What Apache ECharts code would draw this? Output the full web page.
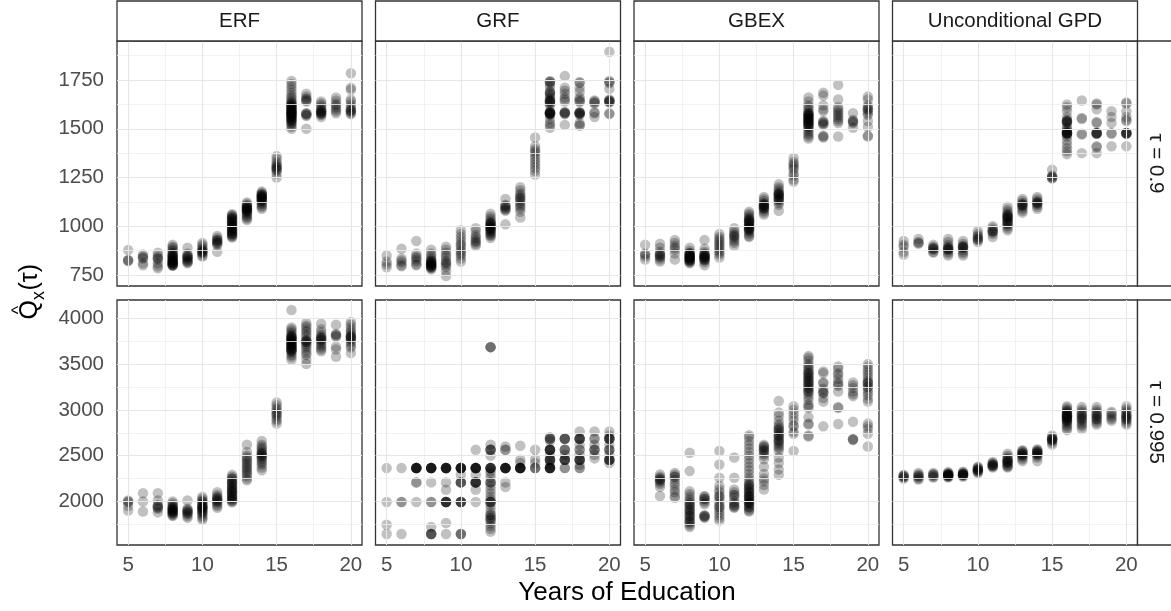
<!DOCTYPE html>
<html><head><meta charset="utf-8">
<script src="https://cdn.jsdelivr.net/npm/echarts@6/dist/echarts.min.js"></script>
<style>html,body{margin:0;padding:0;background:#fff}#c{width:1171px;height:611px}</style>
</head><body><div id="c"></div><script>
// ---------------- data ----------------
const years = [5,6,7,8,9,10,11,12,13,14,15,16,17,18,19,20];
const methods = ['ERF', 'GRF', 'GBEX', 'Unconditional GPD'];
const taus = ['τ = 0.9', 'τ = 0.995'];
const xTicks = [5, 10, 15, 20];
const xMinor = [7.5, 12.5, 17.5];
const yTicks090 = [750, 1000, 1250, 1500, 1750];
const yMinor090 = [875, 1125, 1375, 1625, 1875];
const yTicks0995 = [2000, 2500, 3000, 3500, 4000];
const yMinor0995 = [1750, 2250, 2750, 3250, 3750];
const yRange090 = [694, 1950];
const yRange0995 = [1524, 4200];
const xRange = [4.25, 20.75];

// each array: one list of estimated quantiles per year of education (5..20)
const erf_090 = [
 [878, 828, 825, 822],
 [855, 845, 835, 810, 800, 840],
 [865, 850, 840, 830, 810, 795, 785, 835],
 [905, 895, 890, 880, 875, 865, 860, 855, 850, 848, 845, 842, 840, 835, 830, 828, 825, 822, 820, 818, 815, 812, 810, 808, 805, 802, 800, 800, 798],
 [890, 860, 850, 845, 840, 830, 825, 820, 815, 810, 835, 845],
 [915, 905, 895, 885, 875, 870, 865, 860, 850, 845, 880, 870],
 [950, 940, 930, 925, 920, 915, 910, 905, 870, 930],
 [1062, 1058, 1052, 1048, 1042, 1038, 1032, 1028, 1022, 1018, 1012, 1008, 1002, 998, 992, 988, 982, 978, 972, 968, 962, 958, 952, 948, 942, 1040, 1020, 1000, 980, 960],
 [1122, 1115, 1108, 1102, 1098, 1094, 1090, 1086, 1082, 1078, 1074, 1068, 1062, 1055, 1048, 1040, 1032, 1100, 1090, 1080],
 [1178, 1172, 1166, 1162, 1158, 1154, 1150, 1146, 1142, 1138, 1134, 1130, 1126, 1120, 1114, 1106, 1098, 1090, 1160, 1150, 1140],
 [1360, 1345, 1330, 1320, 1310, 1305, 1300, 1295, 1290, 1285, 1270, 1250],
 [1745, 1730, 1715, 1700, 1685, 1670, 1660, 1650, 1640, 1635, 1630, 1625, 1620, 1615, 1610, 1605, 1600, 1595, 1590, 1585, 1580, 1575, 1570, 1565, 1560, 1555, 1550, 1545, 1540, 1530, 1520, 1510, 1500, 1590, 1580, 1570, 1600, 1590, 1580, 1570, 1560, 1550, 1620, 1610, 1540, 1530],
 [1680, 1665, 1655, 1645, 1640, 1580, 1575, 1570, 1565, 1500, 1650, 1578],
 [1640, 1630, 1620, 1610, 1600, 1595, 1590, 1585, 1580, 1575, 1570, 1560, 1590, 1580],
 [1660, 1645, 1630, 1620, 1610, 1600, 1590, 1580],
 [1785, 1710, 1700, 1650, 1640, 1625, 1610, 1600, 1595, 1590, 1580, 1575, 1590]
];
const grf_090 = [
 [850, 820, 805, 790],
 [885, 835, 825, 815, 800, 795],
 [925, 860, 845, 840, 830, 820, 805, 800],
 [880, 860, 850, 840, 830, 825, 820, 815, 810, 805, 800, 795, 790, 785, 780, 820, 810, 800, 790, 805, 795],
 [895, 880, 865, 850, 840, 825, 815, 810, 800, 790, 770, 745],
 [980, 960, 945, 930, 915, 905, 895, 880, 870, 860, 850, 835, 820],
 [990, 975, 955, 945, 935, 925, 920, 910, 900],
 [1065, 1050, 1040, 1030, 1020, 1015, 1010, 1000, 995, 990, 985, 980, 970, 960, 955, 950, 940, 1000, 990, 980, 1010, 1020, 970],
 [1140, 1110, 1105, 1100, 1095, 1090, 1085, 1080, 1010],
 [1200, 1185, 1170, 1160, 1150, 1145, 1140, 1130, 1120, 1110, 1100, 1090, 1075, 1045],
 [1455, 1410, 1395, 1385, 1375, 1360, 1345, 1330, 1315, 1300, 1285, 1265],
 [1745, 1740, 1730, 1715, 1690, 1680, 1665, 1655, 1645, 1640, 1635, 1630, 1620, 1590, 1585, 1580, 1580, 1575, 1570, 1550, 1530, 1520, 1505, 1640, 1645, 1580, 1580, 1585, 1575, 1680, 1690, 1740],
 [1770, 1710, 1695, 1680, 1660, 1650, 1640, 1585, 1580, 1575, 1520, 1580, 1585],
 [1740, 1735, 1710, 1690, 1660, 1650, 1640, 1585, 1580, 1575, 1570, 1530, 1520, 1515, 1580, 1580, 1585, 1640],
 [1645, 1640, 1635, 1630, 1585, 1580, 1560],
 [1895, 1745, 1740, 1735, 1705, 1650, 1645, 1640, 1635, 1580, 1575, 1640, 1645]
];
const gbex_090 = [
 [905, 860, 855, 845, 830],
 [910, 890, 870, 860, 855, 850, 845, 840, 830, 820],
 [930, 915, 900, 890, 880, 860, 830],
 [890, 875, 865, 860, 855, 850, 845, 840, 835, 830, 825, 820, 815, 810, 850, 845, 840, 835, 830, 825, 860, 855],
 [930, 885, 870, 860, 855, 850, 845, 840, 830, 825, 815, 800, 850, 845, 840, 835, 830],
 [960, 945, 935, 925, 915, 905, 895, 885, 875, 865, 855, 840],
 [990, 975, 965, 955, 950, 945, 935, 925, 915, 900],
 [1075, 1065, 1055, 1045, 1035, 1030, 1025, 1020, 1010, 1000, 995, 990, 985, 980, 970, 960, 950, 945, 1040, 1030, 1020, 1010, 1000, 990, 980],
 [1150, 1140, 1130, 1120, 1115, 1110, 1105, 1100, 1095, 1090, 1080, 1070, 1060, 1110, 1100, 1090],
 [1215, 1200, 1190, 1180, 1170, 1165, 1160, 1150, 1140, 1135, 1130, 1120, 1110, 1080, 1170, 1160, 1150, 1140],
 [1350, 1330, 1320, 1310, 1300, 1290, 1270, 1260, 1240, 1230],
 [1660, 1640, 1620, 1610, 1600, 1590, 1580, 1575, 1570, 1565, 1560, 1555, 1550, 1545, 1540, 1535, 1530, 1525, 1520, 1510, 1500, 1490, 1480, 1470, 1460, 1450, 1580, 1570, 1560, 1550, 1540, 1530, 1520, 1510],
 [1685, 1670, 1620, 1600, 1590, 1540, 1535, 1530, 1525, 1520, 1465, 1460, 1455],
 [1725, 1650, 1610, 1600, 1590, 1580, 1570, 1560, 1550, 1540, 1530, 1460],
 [1580, 1545, 1540, 1535, 1530, 1505],
 [1665, 1650, 1620, 1610, 1600, 1590, 1580, 1570, 1540, 1510, 1465, 1460, 1600]
];
const gpd_090 = [
 [925, 905, 895, 870, 855],
 [935, 920, 915, 910],
 [905, 895, 890, 885, 880, 870, 865, 885],
 [935, 920, 905, 895, 890, 885, 880, 870, 860, 850, 880, 885],
 [925, 910, 900, 895, 890, 880, 870, 860, 850, 890, 895],
 [975, 960, 950, 945, 935, 930, 920, 935],
 [1000, 990, 980, 975, 970, 960, 945, 975],
 [1100, 1085, 1075, 1065, 1055, 1050, 1045, 1040, 1030, 1020, 1010, 1000, 990, 980, 1060, 1050, 1040, 1030, 1020, 1010],
 [1140, 1130, 1120, 1115, 1110, 1105, 1100, 1090, 1080, 1070, 1110],
 [1150, 1140, 1130, 1125, 1120, 1115, 1110, 1100, 1090, 1120],
 [1290, 1260, 1255, 1250, 1250, 1245],
 [1625, 1610, 1590, 1560, 1545, 1540, 1535, 1530, 1510, 1490, 1485, 1480, 1478, 1475, 1470, 1460, 1440, 1420, 1400, 1385, 1370, 1480, 1478, 1476, 1540, 1535, 1500],
 [1645, 1555, 1550, 1475, 1470, 1375],
 [1630, 1625, 1600, 1535, 1530, 1480, 1478, 1476, 1474, 1410, 1405, 1375, 1478, 1476],
 [1590, 1560, 1530, 1478, 1474, 1410],
 [1635, 1630, 1590, 1560, 1545, 1540, 1480, 1478, 1476, 1474, 1410, 1478, 1476]
];
const erf_0995 = [
 [2010, 2000, 1990, 1950, 1900],
 [2090, 2000, 1890],
 [2090, 2010, 1960, 1950, 1940, 1930, 1920, 1880],
 [2000, 1980, 1960, 1950, 1940, 1930, 1920, 1910, 1900, 1890, 1880, 1860, 1850, 1840, 1920, 1900, 1880, 1870],
 [2010, 1920, 1910, 1900, 1890, 1880, 1870, 1860, 1840, 1820],
 [2050, 2030, 2010, 2000, 1990, 1970, 1950, 1940, 1930, 1920, 1900, 1880, 1860, 1840, 1820, 1800, 1960, 1940, 1920, 1900, 1880],
 [2100, 2070, 2050, 2040, 2030, 2020, 2010, 2000, 1990, 1970, 1950, 1930],
 [2290, 2270, 2250, 2230, 2210, 2200, 2180, 2170, 2150, 2140, 2120, 2110, 2100, 2080, 2070, 2050, 2040, 2020, 2010, 2000, 1990, 2250, 2200, 2150, 2100, 2060, 2030],
 [2620, 2540, 2500, 2480, 2460, 2440, 2420, 2400, 2380, 2360, 2340, 2320, 2300, 2280, 2250, 2230],
 [2660, 2620, 2600, 2580, 2560, 2540, 2530, 2520, 2510, 2500, 2490, 2480, 2460, 2440, 2420, 2400, 2370, 2340],
 [3080, 3050, 3020, 3000, 2980, 2960, 2950, 2930, 2900, 2880, 2850],
 [4090, 3900, 3880, 3860, 3840, 3820, 3810, 3800, 3790, 3780, 3770, 3760, 3750, 3740, 3730, 3720, 3710, 3700, 3690, 3680, 3670, 3660, 3650, 3640, 3620, 3600, 3580, 3550, 3800, 3780, 3760, 3740, 3720, 3700, 3680, 3660, 3640],
 [3950, 3920, 3900, 3870, 3850, 3820, 3800, 3760, 3750, 3740, 3720, 3700, 3680, 3650, 3620, 3600, 3550, 3500, 3760, 3740],
 [3940, 3880, 3850, 3820, 3800, 3790, 3780, 3760, 3740, 3720, 3700, 3680, 3660, 3640, 3780, 3760],
 [3930, 3830, 3820, 3810, 3800, 3690, 3660, 3580],
 [3960, 3930, 3900, 3870, 3850, 3830, 3810, 3800, 3790, 3770, 3750, 3730, 3700, 3680, 3620, 3800, 3780]
];
const grf_0995 = [
 [2364, 1993, 1746, 1644],
 [2364, 1993, 1993, 1644],
 [2364, 2364, 2364, 2364, 2364, 2364, 2364, 2364, 2208, 2208, 1993],
 [2364, 2364, 2364, 2364, 2364, 2364, 2364, 2364, 2208, 1993, 1993, 1720, 1644, 1644, 1644, 1644],
 [2364, 2364, 2364, 2364, 2364, 2364, 2364, 2364, 2208, 2128, 1993, 1993, 1993, 1993, 1993, 1993, 1764, 1644],
 [2364, 2364, 2364, 2364, 2364, 2364, 2364, 2364, 2291, 2208, 2208, 2208, 2208, 1993, 1993, 1993, 1993, 1993, 1644, 1644, 1644],
 [2564, 2364, 2364, 2364, 2364, 2364, 2364, 2364, 2364, 2291, 2208, 2208, 2208, 2208, 2208, 2208, 2128, 1993],
 [3685, 3685, 3685, 2620, 2564, 2564, 2564, 2564, 2500, 2364, 2364, 2364, 2364, 2364, 2364, 2330, 2300, 2260, 2208, 2208, 2208, 2170, 2130, 2090, 2050, 2020, 1993, 1993, 1993, 1993, 1960, 1920, 1880, 1850, 1850, 1820, 1820, 1800, 1790, 1760, 1730, 1700, 1670],
 [2600, 2564, 2564, 2364, 2364, 2364, 2364, 2364, 2364, 2364, 2364, 2208, 2157],
 [2608, 2455, 2420, 2364, 2364, 2364, 2364, 2364, 2364, 2364, 2364],
 [2564, 2460, 2420, 2364, 2364, 2364],
 [2700, 2684, 2684, 2684, 2660, 2564, 2564, 2564, 2564, 2564, 2564, 2500, 2455, 2455, 2455, 2455, 2455, 2400, 2364, 2364, 2364, 2364, 2364, 2364, 2364],
 [2684, 2684, 2684, 2684, 2564, 2564, 2564, 2510, 2455, 2455, 2455, 2455, 2455, 2364, 2364],
 [2764, 2684, 2684, 2684, 2684, 2684, 2620, 2564, 2564, 2510, 2455, 2455, 2455, 2455, 2455, 2400, 2364, 2364],
 [2764, 2684, 2684, 2620, 2564, 2564, 2564, 2510, 2470],
 [2764, 2720, 2684, 2684, 2684, 2684, 2684, 2620, 2564, 2564, 2564, 2510, 2455, 2455, 2455, 2455, 2455, 2420]
];
const gbex_0995 = [
 [],
 [2295, 2270, 2250, 2230, 2210, 2190, 2160, 2060, 2250, 2230],
 [2310, 2290, 2270, 2240, 2200, 2170, 2130, 2100, 2060, 2040, 2270],
 [2531, 2331, 2110, 2080, 2050, 2020, 2000, 1980, 1960, 1940, 1920, 1900, 1880, 1860, 1840, 1820, 1800, 1780, 1760, 1740, 1720, 1960, 1900, 1840, 1780],
 [2060, 2050, 2030, 2010, 1990, 1970, 1850, 1840, 1830, 1820, 2030, 1840],
 [2550, 2404, 2258, 2170, 2130, 2100, 2060, 2030, 2000, 1970, 1940, 1910, 1880, 1850, 1820, 1790, 2060, 1940],
 [2480, 2258, 2130, 2100, 2070, 2040, 2000, 1980, 1950, 1940, 1930, 2070, 1960],
 [2724, 2700, 2660, 2620, 2580, 2540, 2500, 2460, 2420, 2380, 2340, 2300, 2260, 2230, 2200, 2180, 2160, 2140, 2120, 2100, 2080, 2060, 2050, 2040, 2020, 2000, 1990, 1980, 1960, 1940, 1920, 1900, 1890, 2100, 2060, 2020, 1980, 1940, 2140, 2180],
 [2620, 2600, 2580, 2560, 2540, 2520, 2500, 2460, 2380, 2300, 2250, 2220, 2180, 2130, 2600, 2560],
 [3096, 2970, 2930, 2880, 2840, 2820, 2800, 2780, 2760, 2740, 2720, 2700, 2680, 2660, 2640, 2620, 2600, 2580, 2550, 2480, 2420, 2350, 2290, 2780, 2720, 2660],
 [3040, 3000, 2960, 2920, 2880, 2830, 2820, 2760, 2740, 2550],
 [3587, 3570, 3540, 3500, 3480, 3460, 3440, 3420, 3400, 3380, 3360, 3340, 3320, 3300, 3280, 3260, 3240, 3220, 3200, 3170, 3140, 3110, 3060, 3040, 3020, 2920, 2850, 2840, 2720, 2710, 3320, 3280, 3240, 3200, 3360, 3400],
 [3420, 3400, 3300, 3290, 3230, 3200, 3190, 3180, 3130, 3090, 2820],
 [3475, 3450, 3400, 3380, 3340, 3300, 3280, 3260, 3200, 3030, 3020, 2845],
 [3300, 3270, 3240, 3200, 3170, 3150, 2870, 2680, 2680, 2670],
 [3500, 3470, 3440, 3410, 3380, 3350, 3320, 3300, 3280, 3250, 3220, 3190, 3160, 3120, 3090, 2850, 2820, 2790, 2740, 2600, 3300, 3250]
];
const gpd_0995 = [
 [2290, 2280, 2270, 2260, 2250, 2275],
 [2310, 2295, 2280, 2265, 2250, 2240, 2275],
 [2310, 2300, 2285, 2270, 2260, 2285],
 [2320, 2310, 2300, 2295, 2290, 2285, 2280, 2275, 2270, 2260, 2300, 2290, 2280],
 [2325, 2315, 2305, 2300, 2295, 2290, 2285, 2280, 2270, 2300, 2290],
 [2380, 2370, 2360, 2350, 2340, 2330, 2320, 2310, 2350, 2340],
 [2430, 2420, 2410, 2400, 2390, 2380, 2370, 2400, 2390],
 [2520, 2500, 2480, 2460, 2440, 2430, 2420, 2400, 2390, 2380, 2370, 2460, 2440, 2420],
 [2560, 2550, 2540, 2530, 2520, 2510, 2500, 2480, 2460, 2440, 2520, 2500],
 [2570, 2560, 2550, 2540, 2530, 2520, 2510, 2500, 2480, 2440, 2540, 2520],
 [2720, 2700, 2690, 2680, 2670, 2660, 2640, 2620, 2680, 2670],
 [3040, 3020, 3000, 2990, 2980, 2970, 2960, 2950, 2940, 2930, 2920, 2910, 2900, 2890, 2880, 2870, 2860, 2840, 2820, 2800, 2780, 2950, 2930, 2910, 2890],
 [3030, 3000, 2980, 2960, 2940, 2920, 2900, 2880, 2860, 2840, 2820, 2790, 2940, 2900],
 [3030, 3000, 2980, 2960, 2940, 2920, 2900, 2880, 2860, 2840, 2940, 2900],
 [2980, 2960, 2940, 2920, 2900, 2880],
 [3040, 3010, 2990, 2970, 2950, 2930, 2920, 2900, 2880, 2860, 2840, 2940, 2900]
];

const panelData = [
  [erf_090, grf_090, gbex_090, gpd_090],
  [erf_0995, grf_0995, gbex_0995, gpd_0995]
];
const rowTicks = [yTicks090, yTicks0995];
const rowMinor = [yMinor090, yMinor0995];
const rowRange = [yRange090, yRange0995];

// ---------------- layout ----------------
const FONT = 'Liberation Sans, Arial, Helvetica, sans-serif';
const colLeft = [117, 375.5, 634, 892.5];
const rowTop = [41, 300];
const PW = 245, PH = 245;
const TICK_FS = 20.5, STRIP_FS = 20.5, TITLE_FS = 26;

const grid = [], xAxis = [], yAxis = [], series = [];
let gi = 0;
for (let r = 0; r < 2; r++) {
  for (let c = 0; c < 4; c++) {
    grid.push({left: colLeft[c], top: rowTop[r], width: PW, height: PH, show: true,
      borderColor: '#333333', borderWidth: 1.3, backgroundColor: '#fff', containLabel: false, outerBoundsMode: 'none'});
    xAxis.push({type: 'value', gridIndex: gi, min: xRange[0], max: xRange[1],
      axisLine: {show: false}, axisTick: {show: false}, splitLine: {show: false},
      axisLabel: {show: r === 1, customValues: xTicks, color: '#4d4d4d', fontSize: TICK_FS, fontFamily: FONT, margin: 10,
        formatter: v => String(v)}});
    yAxis.push({type: 'value', gridIndex: gi, min: rowRange[r][0], max: rowRange[r][1],
      axisLine: {show: false}, axisTick: {show: false}, splitLine: {show: false},
      axisLabel: {show: c === 0, customValues: rowTicks[r], color: '#4d4d4d', fontSize: TICK_FS, fontFamily: FONT, margin: 13,
        formatter: v => String(v)}});
    const lines = [];
    xMinor.forEach(v => lines.push({xAxis: v, lineStyle: {color: '#efefef', width: 0.8, type: 'solid'}}));
    rowMinor[r].forEach(v => lines.push({yAxis: v, lineStyle: {color: '#efefef', width: 0.8, type: 'solid'}}));
    xTicks.forEach(v => lines.push({xAxis: v, lineStyle: {color: '#e6e6e6', width: 1.1, type: 'solid'}}));
    rowTicks[r].forEach(v => lines.push({yAxis: v, lineStyle: {color: '#e6e6e6', width: 1.1, type: 'solid'}}));
    series.push({type: 'scatter', xAxisIndex: gi, yAxisIndex: gi, data: [], z: 1, silent: true,
      markLine: {silent: true, symbol: ['none', 'none'], label: {show: false}, animation: false, data: lines}});
    const pts = [];
    panelData[r][c].forEach((vals, i) => vals.forEach(v => pts.push([years[i], v])));
    series.push({type: 'scatter', xAxisIndex: gi, yAxisIndex: gi, data: pts, z: 3, silent: true,
      symbol: 'circle', symbolSize: 10.5, itemStyle: {color: 'rgba(0,0,0,0.3)', borderWidth: 0}});
    gi++;
  }
}

const graphic = [];
methods.forEach((m, c) => {
  graphic.push({type: 'rect', shape: {x: colLeft[c], y: 1, width: PW, height: 40},
    style: {fill: '#fff', stroke: '#333333', lineWidth: 1.3}, z: 10, silent: true});
  graphic.push({type: 'text', x: colLeft[c] + PW / 2, y: 21, z: 11, silent: true,
    style: {text: m, fontSize: STRIP_FS, fontFamily: FONT, fill: '#1a1a1a', align: 'center', verticalAlign: 'middle'}});
});
taus.forEach((t, r) => {
  graphic.push({type: 'rect', shape: {x: colLeft[3] + PW, y: rowTop[r], width: 60, height: PH},
    style: {fill: '#fff', stroke: '#333333', lineWidth: 1.3}, z: 10, silent: true});
  graphic.push({type: 'text', x: 1156, y: rowTop[r] + PH / 2, rotation: -Math.PI / 2, z: 11, silent: true,
    style: {text: t, fontSize: STRIP_FS, fontFamily: FONT, fill: '#1a1a1a', align: 'center', verticalAlign: 'middle'}});
});
graphic.push({type: 'text', x: 627, y: 593, z: 11, silent: true,
  style: {text: 'Years of Education', fontSize: TITLE_FS, fontFamily: FONT, fill: '#000', align: 'center', verticalAlign: 'middle'}});
graphic.push({type: 'group', x: 30, y: 291.5, rotation: Math.PI / 2, z: 11, silent: true, children: [
  {type: 'text', x: -28, y: 0, style: {text: 'Q', fontSize: 25, fontFamily: FONT, fill: '#000', align: 'left', verticalAlign: 'middle'}},
  {type: 'text', x: -18.5, y: -11, style: {text: '^', fontSize: 18, fontFamily: FONT, fill: '#000', align: 'center', verticalAlign: 'middle'}},
  {type: 'text', x: -8.5, y: 9, style: {text: 'x', fontSize: 18, fontFamily: FONT, fill: '#000', align: 'left', verticalAlign: 'middle'}},
  {type: 'text', x: 1, y: 0, style: {text: '(τ)', fontSize: 25, fontFamily: FONT, fill: '#000', align: 'left', verticalAlign: 'middle'}}
]});

const chart = echarts.init(document.getElementById('c'), null, {renderer: 'canvas'});
chart.setOption({animation: false, backgroundColor: '#fff', grid, xAxis, yAxis, series, graphic});
</script></body></html>
